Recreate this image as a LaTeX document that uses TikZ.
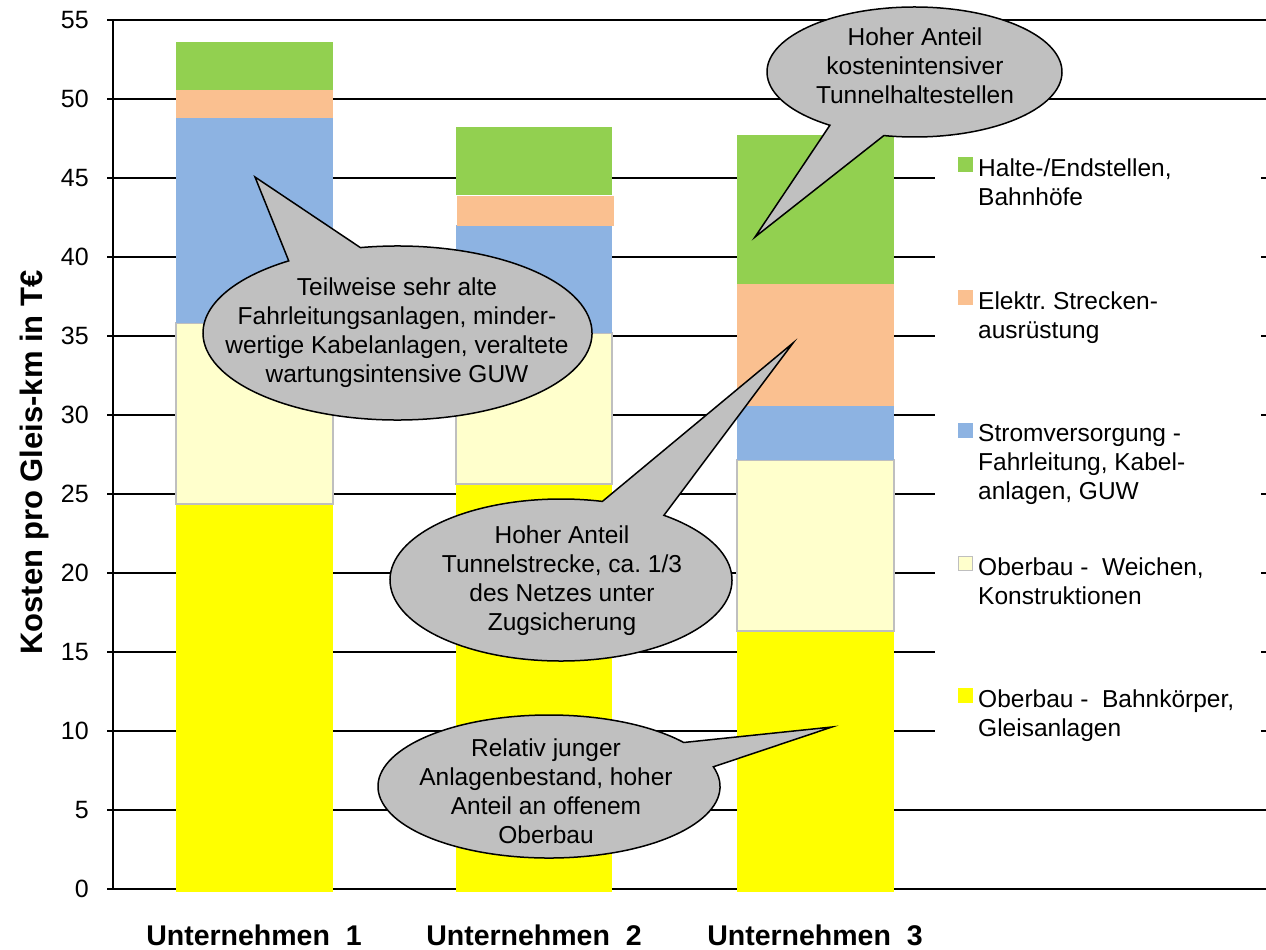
\documentclass[tikz,border=0pt]{standalone}
\usepackage{fontspec}
\setmainfont{Liberation Sans}
\frenchspacing
\usetikzlibrary{calc}
\definecolor{cgreen}{HTML}{92D050}
\definecolor{corange}{HTML}{FAC090}
\definecolor{cblue}{HTML}{8DB3E2}
\definecolor{clight}{HTML}{FFFFCC}
\definecolor{cyellow}{HTML}{FFFF00}
\definecolor{cgray}{HTML}{C0C0C0}
\definecolor{cborder}{HTML}{BFBFBF}
\tikzset{
  gridl/.style={black, line width=1.6pt},
  ticklbl/.style={anchor=east, inner sep=0pt, font=\fontsize{25}{29}\selectfont},
  xlbl/.style={anchor=base, inner sep=0pt, font=\fontsize{28.5}{33}\selectfont\bfseries},
  legtext/.style={anchor=north west, inner sep=0pt, align=left, font=\fontsize{24.5}{29}\selectfont},
  calltext/.style={anchor=north, inner sep=0pt, align=center, font=\fontsize{24.5}{29}\selectfont},
  callshape/.style={draw=black, fill=cgray, line width=1.5pt, line join=miter},
  lightseg/.style={draw=cborder, fill=clight, line width=1.2pt}
}
\newcommand{\mycallout}[8]{%
  \draw[callshape] ($(#1,#2)+(#5:#3 and #4)$) -- (#8) -- ($(#1,#2)+(#6:#3 and #4)$)
    arc[start angle=#6, end angle=#7, x radius=#3, y radius=#4] -- cycle;}
\begin{document}
\frenchspacing
\begin{tikzpicture}[x=1pt,y=1pt,yscale=-1]
\useasboundingbox (0,0) rectangle (1266,950);
\fill[white] (0,0) rectangle (1266,950);
% grid lines and tick labels
\foreach \v in {0,5,...,55} {
  \draw[gridl] (107,{889-15.8*\v}) -- (1266,{889-15.8*\v});
  \node[ticklbl] (tick\v) at (89,{889-15.8*\v}) {\v};
}
% y axis
\draw[gridl] (113,20) -- (113,889);
% legend background
\fill[white] (935,110) rectangle (1261,760);
% bar 1
\fill[cyellow] (176,892) rectangle (333,504);
\draw[lightseg] (176,504) rectangle (333,323);
\fill[cblue] (176,323) rectangle (333,118);
\fill[corange] (176,118) rectangle (333,90);
\fill[cgreen] (176,90) rectangle (333,42);
% bar 2
\fill[cyellow] (456,892) rectangle (612,484);
\draw[lightseg] (456,484) rectangle (612,333);
\fill[cblue] (456,333) rectangle (612,225);
\fill[corange] (457,226) rectangle (614,196);
\fill[cgreen] (456,195) rectangle (612,127);
% bar 3
\fill[cyellow] (737,892) rectangle (894,631);
\draw[lightseg] (737,631) rectangle (894,460);
\fill[cblue] (737,460) rectangle (894,406);
\fill[corange] (737,406) rectangle (894,284);
\fill[cgreen] (737,284) rectangle (894,135);
% axis title
\node[anchor=base, inner sep=0pt, rotate=90, font=\fontsize{31}{35}\selectfont\bfseries] (ytitle) at (42,462.5) {Kosten pro Gleis-km in T€};
% category labels
\node[xlbl] (u1) at (254,945) {Unternehmen\ \ 1};
\node[xlbl] (u2) at (534,945) {Unternehmen\ \ 2};
\node[xlbl] (u3) at (815,945) {Unternehmen\ \ 3};
% legend
\fill[cgreen] (958,157) rectangle (973,172);
\node[legtext] (l1) at (978,158.5) {Halte-/Endstellen,\\Bahnhöfe};
\fill[corange] (958,290) rectangle (973,305);
\node[legtext] (l2) at (978,291.5) {Elektr. Strecken-\\ausrüstung};
\fill[cblue] (958,423) rectangle (973,438);
\node[legtext] (l3) at (978,424.5) {Stromversorgung -\\Fahrleitung, Kabel-\\anlagen, GUW};
\draw[lightseg] (958.5,556.5) rectangle (972.5,570.5);
\node[legtext] (l4) at (978,557.5) {Oberbau -~ Weichen,\\Konstruktionen};
\fill[cyellow] (958,688) rectangle (973,703);
\node[legtext] (l5) at (978,689.5) {Oberbau -~ Bahnkörper,\\Gleisanlagen};
% callouts
\coordinate (tip1) at (255,177);
\coordinate (tip2) at (793,343);
\coordinate (tip3) at (832,727);
\coordinate (tip4) at (755,237);
\mycallout{397.5}{333}{194.5}{87}{236}{259}{596}{tip1}
\node[calltext] (c1) at (397,278) {Teilweise sehr alte\\Fahrleitungsanlagen, minder-\\wertige Kabelanlagen, veraltete\\wartungsintensive GUW};
\mycallout{561}{580}{171}{81}{284}{307}{644}{tip2}
\node[calltext] (c2) at (562,526) {Hoher Anteil\\Tunnelstrecke, ca. 1/3\\des Netzes unter\\Zugsicherung};
\mycallout{549}{786.5}{171}{71.5}{322}{344}{682}{tip3}
\node[calltext] (c3) at (546,739) {Relativ junger\\Anlagenbestand, hoher\\Anteil an offenem\\Oberbau};
\mycallout{914.5}{72}{147.5}{65}{102}{125}{462}{tip4}
\node[calltext] (c4) at (915,28) {Hoher Anteil\\kostenintensiver\\Tunnelhaltestellen};
\end{tikzpicture}
\end{document}
